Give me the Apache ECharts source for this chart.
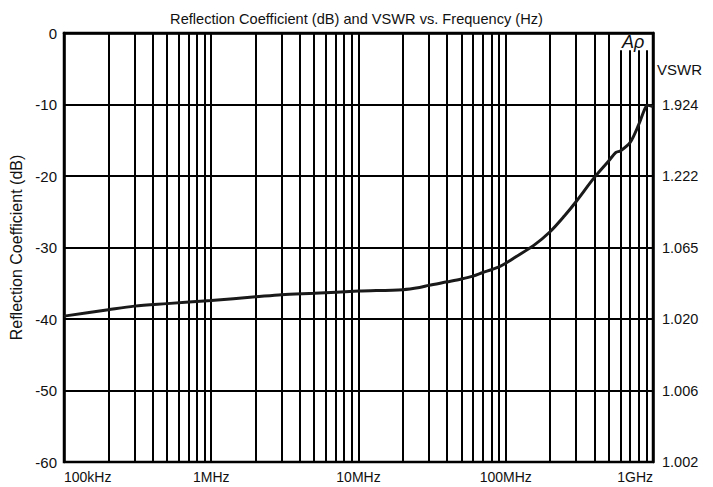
<!DOCTYPE html>
<html>
<head>
<meta charset="utf-8">
<script src="https://cdn.jsdelivr.net/npm/echarts@6/dist/echarts.min.js"></script>
<style>
html,body{margin:0;padding:0;background:#fff;}
#chart{width:713px;height:487px;}
</style>
</head>
<body>
<div id="chart"></div>
<script>
// Frequency (Hz) and reflection coefficient (dB)
const freqs = [1e5, 2e5, 3e5, 5e5, 1e6, 2e6, 3e6, 5e6, 1e7, 2e7, 2.6e7, 3e7, 4e7, 5e7, 6e7, 7e7, 8e7, 9e7, 1e8, 1.13e8, 1.55e8, 2e8, 2.5e8, 3e8, 4e8, 5e8, 5.6e8, 6e8, 7e8, 8e8, 8.8e8, 9.2e8, 1e9];
const reflDb = [-39.6, -38.7, -38.2, -37.85, -37.4, -36.9, -36.6, -36.4, -36.1, -35.9, -35.6, -35.3, -34.8, -34.4, -34.0, -33.5, -33.1, -32.7, -32.2, -31.5, -29.7, -27.8, -25.6, -23.6, -20.2, -17.9, -16.7, -16.5, -15.3, -12.8, -10.6, -10.1, -10.3];

// Tick labels
const xTickLabels = ['100kHz', '1MHz', '10MHz', '100MHz', '1GHz'];
const dbTicks = [0, -10, -20, -30, -40, -50, -60];
const vswrTickLabels = ['', '1.924', '1.222', '1.065', '1.020', '1.006', '1.002'];

// Minor grid: 2..9 x each decade
const decades = [1e5, 1e6, 1e7, 1e8];
const multipliers = [2, 3, 4, 5, 6, 7, 8, 9];

const FONT = '"Liberation Sans", Arial, sans-serif';
const INK = '#111';

const minorLines = [];
decades.forEach(function (d) {
  multipliers.forEach(function (m) {
    const f = d * m;
    const top = (d === 1e8 && m >= 6) ? -2.4 : 0;
    minorLines.push([{ coord: [f, top] }, { coord: [f, -60] }]);
  });
});

const chart = echarts.init(document.getElementById('chart'), null, { renderer: 'svg' });
chart.setOption({
  animation: false,
  backgroundColor: '#fff',
  title: {
    text: 'Reflection Coefficient (dB) and VSWR vs. Frequency (Hz)',
    left: 'center',
    top: 6,
    textStyle: { fontFamily: FONT, fontSize: 14.6, fontWeight: 'normal', color: INK }
  },
  grid: {
    left: 64, right: 60, top: 33, bottom: 25,
    show: true, borderColor: '#000', borderWidth: 2.5, backgroundColor: 'transparent'
  },
  xAxis: {
    type: 'log', logBase: 10, min: 1e5, max: 1e9, splitNumber: 4,
    axisLine: { show: true, lineStyle: { color: '#000', width: 2.5 } },
    axisTick: { show: false },
    splitLine: { show: true, lineStyle: { color: '#000', width: 2 } },
    axisLabel: {
      margin: 8, fontFamily: FONT, fontSize: 14, color: INK,
      alignMinLabel: 'left', alignMaxLabel: 'right',
      formatter: function (v) { return xTickLabels[Math.round(Math.log10(v)) - 5]; }
    }
  },
  yAxis: [{
    type: 'value', min: -60, max: 0, interval: 10, position: 'left',
    name: 'Reflection Coefficient (dB)', nameLocation: 'middle', nameGap: 34,
    nameTextStyle: { fontFamily: FONT, fontSize: 16, color: INK },
    axisLine: { show: true, lineStyle: { color: '#000', width: 2.5 } },
    axisTick: { show: false },
    splitLine: { show: true, lineStyle: { color: '#000', width: 2 } },
    axisLabel: {
      margin: 7, fontFamily: FONT, fontSize: 15, color: INK,
      formatter: function (v) { return dbTicks.indexOf(v) >= 0 ? String(v) : ''; }
    }
  }, {
    type: 'value', min: -60, max: 0, interval: 10, position: 'right',
    axisLine: { show: true, lineStyle: { color: '#000', width: 2.5 } },
    axisTick: { show: false },
    splitLine: { show: false },
    axisLabel: {
      margin: 9, fontFamily: FONT, fontSize: 14.5, color: INK,
      formatter: function (v) { return vswrTickLabels[Math.round(-v / 10)] || ''; }
    }
  }],
  graphic: [{
    type: 'text', left: 657, top: 62,
    style: { text: 'VSWR', fontFamily: FONT, fontSize: 15, fill: INK }
  }, {
    type: 'text', left: 622, top: 33,
    style: { text: 'Aρ', fontFamily: FONT, fontStyle: 'italic', fontSize: 18, fill: INK }
  }],
  series: [{
    type: 'line', data: [], z: 1, silent: true,
    markLine: {
      silent: true, symbol: 'none', z: 1,
      label: { show: false },
      lineStyle: { color: '#000', width: 2, type: 'solid' },
      emphasis: { disabled: true },
      data: minorLines
    }
  }, {
    type: 'line', z: 5,
    data: freqs.map(function (f, i) { return [f, reflDb[i]]; }),
    showSymbol: false, smooth: 0.3,
    lineStyle: { color: '#1a1a1a', width: 3 }
  }]
});
</script>
</body>
</html>
